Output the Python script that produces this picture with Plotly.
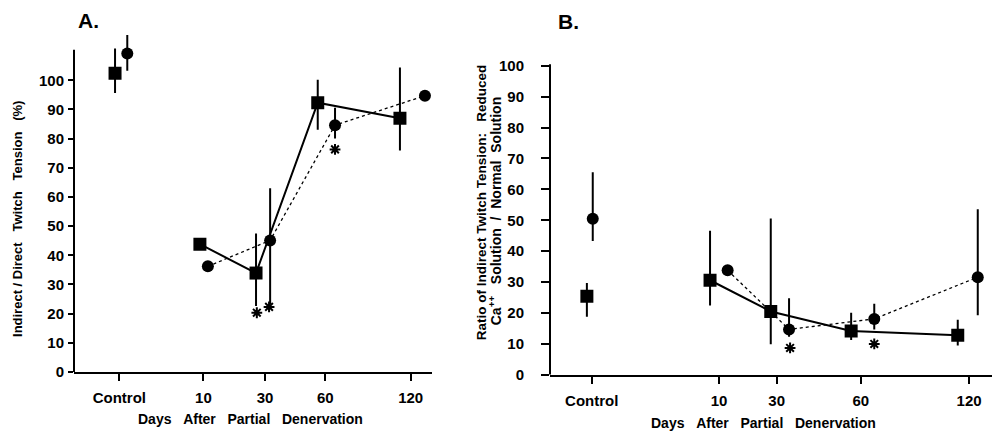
import plotly.graph_objects as go

# ---------------- data ----------------
tick_labels = ["Control", "10", "30", "60", "120"]
# tick positions along each panel's (sqrt-like) time axis
tick_pos_A = [0, 3.162, 5.477, 7.746, 10.954]
tick_pos_B = [0, 3.69, 5.36, 7.80, 10.94]
y_ticks = list(range(0, 101, 10))

# Panel A: indirect / direct twitch tension (%)
A_sq_x = [-0.16, 3.03, 5.14, 7.46, 10.55]
A_sq_y = [102.4, 43.8, 33.9, 92.3, 87.0]
A_sq_ep = [8.5, 0, 13.6, 7.9, 17.4]
A_sq_em = [6.8, 0, 11.3, 9.3, 11.1]
A_ci_x = [0.30, 3.33, 5.67, 8.11, 11.49]
A_ci_y = [109.2, 36.2, 45.1, 84.6, 94.7]
A_ci_ep = [6.3, 0, 17.9, 6.0, 0]
A_ci_em = [5.9, 0, 21.9, 4.6, 0]
A_star_x = [5.17, 5.63, 8.11]
A_star_y = [20.3, 22.3, 76.3]

# Panel B: ratio reduced Ca++ / normal solution
B_sq_x = [-0.14, 3.43, 5.19, 7.52, 10.61]
B_sq_y = [25.4, 30.6, 20.5, 14.2, 12.8]
B_sq_ep = [4.3, 16.0, 30.1, 5.9, 5.0]
B_sq_em = [6.6, 8.2, 10.6, 2.9, 3.3]
B_ci_x = [0.03, 3.94, 5.72, 8.19, 11.19]
B_ci_y = [50.5, 33.8, 14.7, 18.1, 31.6]
B_ci_ep = [15.0, 0, 10.1, 4.9, 22.0]
B_ci_em = [7.2, 0, 2.4, 3.4, 12.3]
B_star_x = [5.75, 8.19]
B_star_y = [8.7, 10.0]

FONT = "Liberation Sans, Arial, Helvetica, sans-serif"
fig = go.Figure()


def err(p, m):
    return dict(type="data", symmetric=False, array=p, arrayminus=m,
                width=0, thickness=2, color="black", visible=True)


def add_panel(xa, ya, sx, sy, sep, sem, cx, cy, cep, cem, stx, sty):
    # control points (not connected)
    fig.add_trace(go.Scatter(x=sx[:1], y=sy[:1], mode="markers", xaxis=xa, yaxis=ya,
                             marker=dict(symbol="square", size=13, color="black"),
                             error_y=err(sep[:1], sem[:1]), showlegend=False))
    fig.add_trace(go.Scatter(x=cx[:1], y=cy[:1], mode="markers", xaxis=xa, yaxis=ya,
                             marker=dict(symbol="circle", size=12, color="black"),
                             error_y=err(cep[:1], cem[:1]), showlegend=False))
    # time course
    fig.add_trace(go.Scatter(x=cx[1:], y=cy[1:], mode="lines+markers", xaxis=xa, yaxis=ya,
                             line=dict(color="black", width=1.3, dash="dot"),
                             marker=dict(symbol="circle", size=12, color="black"),
                             error_y=err(cep[1:], cem[1:]), showlegend=False))
    fig.add_trace(go.Scatter(x=sx[1:], y=sy[1:], mode="lines+markers", xaxis=xa, yaxis=ya,
                             line=dict(color="black", width=2),
                             marker=dict(symbol="square", size=13, color="black"),
                             error_y=err(sep[1:], sem[1:]), showlegend=False))
    fig.add_trace(go.Scatter(x=stx, y=sty, mode="markers", xaxis=xa, yaxis=ya,
                             marker=dict(symbol="asterisk-open", size=9, color="black",
                                         line=dict(color="black", width=2)),
                             showlegend=False))


add_panel("x", "y", A_sq_x, A_sq_y, A_sq_ep, A_sq_em, A_ci_x, A_ci_y, A_ci_ep, A_ci_em,
          A_star_x, A_star_y)
add_panel("x2", "y2", B_sq_x, B_sq_y, B_sq_ep, B_sq_em, B_ci_x, B_ci_y, B_ci_ep, B_ci_em,
          B_star_x, B_star_y)

tickfont = dict(family=FONT, size=15, color="black", weight="bold")
xcommon = dict(tickmode="array", ticktext=tick_labels, ticks="outside", ticklen=7,
               tickwidth=1.5, tickcolor="black", showline=True, linecolor="black",
               linewidth=2, showgrid=False, zeroline=False, tickfont=tickfont,
               ticklabelstandoff=4)
ycommon = dict(tickmode="array", tickvals=y_ticks, ticks="outside",
               tickwidth=1.5, tickcolor="black", showline=False, showgrid=False,
               zeroline=False, tickfont=tickfont)

W, H = 999, 439
fig.update_layout(
    width=W, height=H, margin=dict(l=0, r=0, t=0, b=0),
    plot_bgcolor="white", paper_bgcolor="white",
    font=dict(family=FONT, color="black"),
    xaxis=dict(domain=[74 / W, 431.7 / W], range=[-1.703, 11.744],
               tickvals=tick_pos_A, anchor="y", **xcommon),
    yaxis=dict(domain=[1 - 378 / H, 1 - 25.5 / H], range=[0, 117], anchor="x",
               ticklen=5, ticklabelstandoff=1, **ycommon),
    xaxis2=dict(domain=[550 / W, 991.7 / W], range=[-1.209, 11.594],
                tickvals=tick_pos_B, anchor="y2", **xcommon),
    yaxis2=dict(domain=[1 - 381 / H, 1 - 58.5 / H], range=[0, 101], anchor="x2",
                ticklen=8, ticklabelstandoff=14, **ycommon),
)

# y axis lines (panel A's line stops above 100)
fig.add_shape(type="line", xref="x domain", yref="y", x0=0, x1=0, y0=0, y1=110.5,
              line=dict(color="black", width=2))
fig.add_shape(type="line", xref="x2 domain", yref="y2", x0=0, x1=0, y0=0, y1=100.5,
              line=dict(color="black", width=2))

S = "\u00a0"


def ann(text, x, y, size=13, angle=0, yanchor="middle"):
    fig.add_annotation(text=text, x=x / W, y=1 - y / H, xref="paper", yref="paper",
                       xanchor="center", yanchor=yanchor, showarrow=False,
                       textangle=angle,
                       font=dict(family=FONT, size=size, color="black", weight="bold"))


xt = "Days" + S * 3 + "After" + S * 3 + "Partial" + S * 3 + "Denervation"
ann(xt, 250, 437, 14, yanchor="bottom")
ann(xt, 763.5, 441, 14, yanchor="bottom")
ann("Indirect" + S + "/" + S + "Direct" + S * 3 + "Twitch" + S * 3 + "Tension" + S * 3 + "(%)",
    18, 220, 13, -90)
ann("Ratio of Indirect Twitch Tension:" + S * 3 + "Reduced", 481.7, 203, 13.5, -90)
ann("Ca<sup>++</sup>" + S * 3 + "Solution" + S * 2 + "/" + S * 2 + "Normal" + S * 2 + "Solution",
    495, 212, 14, -90)
ann("A.", 88, 15, 21)
ann("B.", 568, 16, 21)

fig.write_html("out.html", post_script="document.body.style.margin='0';",
               config={"displayModeBar": False})
